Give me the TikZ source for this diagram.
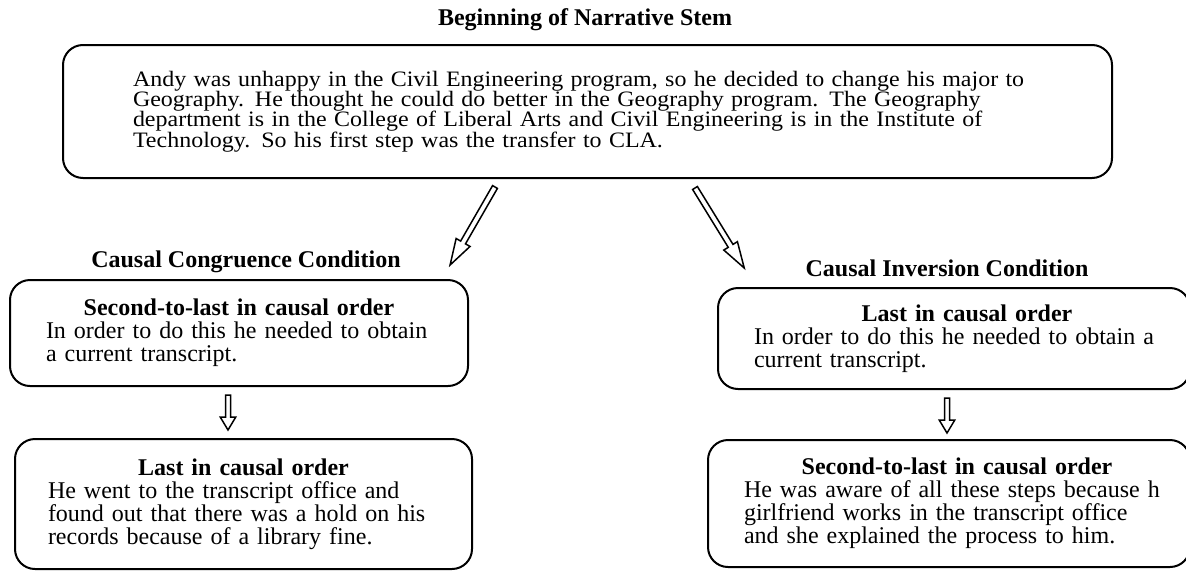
\documentclass[tikz,border=0pt]{standalone}
\usepackage{fontspec}
\setmainfont{Liberation Serif}
\newfontfamily\stemfamily[FakeStretch=1.09]{Liberation Serif}
\usetikzlibrary{calc}
\newcommand{\stemfont}{\stemfamily\fontsize{11}{10.2}\selectfont}
\tikzset{
  panel/.style={draw, line width=1pt, rounded corners=10pt, align=left, inner ysep=0pt,
    font=\fontsize{12}{11.5}\selectfont},
  heading/.style={inner sep=0pt, font=\fontsize{12}{14}\selectfont\bfseries},
  arrowline/.style={line width=0.75pt, line join=miter}
}
% hollow arrow: from, to, shaft half width, head half width, head length
\newcommand{\hollowarrow}[5]{%
  \coordinate (hb) at ($(#2)!#5!(#1)$);
  \draw[arrowline] ($(#1)!#3!90:(#2)$) -- ($(hb)!#3!90:(#2)$) -- ($(hb)!#4!90:(#2)$) -- (#2)
    -- ($(hb)!#4!-90:(#2)$) -- ($(hb)!#3!-90:(#2)$) -- ($(#1)!#3!-90:(#2)$) -- cycle;}

\begin{document}
\begin{tikzpicture}[x=0.5pt, y=-0.5pt]
\useasboundingbox (0,0) rectangle (1186,573);
% Headings
    \node[heading] (title) at (585,20) {Beginning of Narrative Stem};
    \node[heading] (conglabel) at (246,262) {Causal Congruence Condition};
    \node[heading] (invlabel) at (947,268) {Causal Inversion Condition};
% Stem
    \node[panel, text width=454.5pt, inner xsep=35pt, minimum height=66.5pt, font=\stemfont]
      (stem) at (587.5,111.5)
      {Andy was unhappy in the Civil Engineering program, so he decided to change his major to\\
       Geography.  He thought he could do better in the Geography program.  The Geography\\
       department is in the College of Liberal Arts and Civil Engineering is in the Institute of\\
       Technology.  So his first step was the transfer to CLA.};
% Congruence boxes
    \node[panel, text width=193pt, inner xsep=18pt, minimum height=53pt] (cong1) at (239,333)
      {{\centering\bfseries Second-to-last in causal order\par}
       In order to do this he needed to obtain\\a current transcript.};
    \node[panel, text width=195.5pt, inner xsep=16.5pt, minimum height=65pt] (cong2) at (243.5,504)
      {{\centering\bfseries Last in causal order\par}
       He went to the transcript office and\\found out that there was a hold on his\\records because of a library fine.};
% Inversion boxes (text runs into the right margin)
    \node[panel, text width=200pt, inner xsep=18pt, minimum height=50.5pt] (inv1) at (954,338.5)
      {{\centering\hspace*{13pt}\bfseries Last in causal order\par}
       \mbox{In order to do this he needed to obtain a}\\current transcript.};
    \node[panel, text width=205pt, inner xsep=18pt, minimum height=63.5pt] (inv2) at (949,503.5)
      {{\centering\hspace*{8pt}\bfseries Second-to-last in causal order\par}
       \mbox{He was aware of all these steps because h}\\girlfriend works in the transcript office\\and she explained the process to him.};
% Arrows
    \coordinate (stemL) at ($(stem.south)+(-92.5,8)$);
    \coordinate (stemR) at ($(stem.south)+(107.5,9)$);
    \coordinate (congtip) at ($(conglabel.east)+(49,3)$);
    \coordinate (invtip) at ($(invlabel.west)+(-61,0)$);
    \hollowarrow{stemL}{congtip}{1.4pt}{4pt}{13pt}
    \hollowarrow{stemR}{invtip}{1.4pt}{4pt}{13pt}
    \coordinate (cong1b) at ($(cong1.south)+(-11,8)$);
    \coordinate (cong2t) at ($(cong2.north)+(-15.5,-8)$);
    \coordinate (inv1b) at ($(inv1.south)+(-7,8)$);
    \coordinate (inv2t) at ($(inv2.north)+(-2,-6)$);
    \hollowarrow{cong1b}{cong2t}{1.25pt}{3.9pt}{6.5pt}
    \hollowarrow{inv1b}{inv2t}{1.25pt}{3.9pt}{6.5pt}
\end{tikzpicture}
\end{document}
